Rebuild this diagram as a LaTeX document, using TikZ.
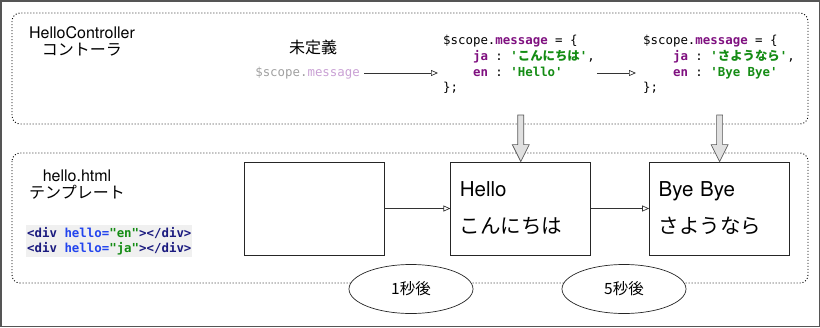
\documentclass[tikz,border=0pt]{standalone}
\usepackage{fontspec}
\setmainfont{TeX Gyre Heros}
\setmonofont{DejaVu Sans Mono}
\newfontfamily\jp{Noto Sans CJK JP}
\usetikzlibrary{arrows.meta,shapes.geometric,positioning,calc}

\definecolor{kwpurple}{HTML}{7F1080}
\definecolor{strgreen}{HTML}{148C14}
\definecolor{tagnavy}{HTML}{1A1A7F}
\definecolor{attrblue}{HTML}{2244EE}
\definecolor{fadegray}{HTML}{A0A0A0}
\definecolor{fadepurple}{HTML}{C9A0D4}
\definecolor{framegray}{HTML}{555555}

\newcommand{\kw}[1]{\textcolor{kwpurple}{\textbf{#1}}}
\newcommand{\str}[1]{\textcolor{strgreen}{\textbf{#1}}}
\newcommand{\tagn}[1]{\textcolor{tagnavy}{#1}}
\newcommand{\attr}[1]{\textcolor{attrblue}{#1}}
\newcommand{\fatdown}[2]{%
  \path[fatarrow] let \p1=(#1), \p2=(#2) in
    (\x1-3pt,\y1) -- (\x1+3pt,\y1) -- (\x1+3pt,\y2+17pt) -- (\x1+8.5pt,\y2+17pt)
    -- (\x2,\y2) -- (\x1-8.5pt,\y2+17pt) -- (\x1-3pt,\y2+17pt) -- cycle;}

\begin{document}
\begin{tikzpicture}[x=1pt,y=-1pt,
  panel/.style={draw=black, line width=0.9pt, dash pattern=on 1pt off 2pt, rounded corners=8pt},
  label/.style={align=center, inner sep=0pt, font=\fontsize{16}{17}\selectfont},
  code/.style={align=left, inner sep=0pt, font=\ttfamily\fontsize{12.4}{15.6}\selectfont},
  screen/.style={draw=black!85, line width=0.8pt, minimum width=140pt, minimum height=93pt,
    text width=122pt, inner xsep=9pt, align=left, font=\fontsize{20.5}{37}\selectfont},
  flow/.style={draw=black!80, line width=0.7pt, -{Triangle[open,length=7pt,width=6pt]}},
  fatarrow/.style={draw=black!65, fill=black!12, line width=0.7pt},
  delay/.style={ellipse, draw=black!85, fill=white, line width=0.7pt, minimum width=124pt,
    minimum height=49pt, font=\jp\fontsize{15.5}{17}\selectfont}]
\useasboundingbox (0,0) rectangle (820,327);
\draw[framegray, line width=1.5pt] (0.75,0.75) rectangle (819.25,326.25);

% panels
\draw[panel] (12,13) rectangle (808,124);
\draw[panel] (12,153) rectangle (808,283);

% controller
\node[label] (ctrl) at (82,41) {HelloController\\{\jp コントーラ}};
\node[label, font=\jp\fontsize{16}{17}\selectfont] (undef) at (313,47) {未定義};
\node[code, inner xsep=4pt, anchor=east] (scopevar) at (364,73)
  {\textcolor{fadegray}{\$scope.}\textcolor{fadepurple}{message}};
\node[code, anchor=west] (code1) at (443,64.5)
  {\$scope.\kw{message} = \{\\
   \ \ \ \ \kw{ja} : \str{'{\jp こんにちは}'},\\
   \ \ \ \ \kw{en} : \str{'Hello'}\\
   \};};
\node[code, anchor=west] (code2) at (643,64.5)
  {\$scope.\kw{message} = \{\\
   \ \ \ \ \kw{ja} : \str{'{\jp さようなら}'},\\
   \ \ \ \ \kw{en} : \str{'Bye Bye'}\\
   \};};

% template
\node[label] (tmpl) at (77,185) {hello.html\\{\jp テンプレート}};
\node[code, font=\ttfamily\bfseries\fontsize{12.4}{15}\selectfont, fill=black!6,
  inner xsep=1pt, inner ysep=2pt, anchor=north west] (html) at (26,225)
  {\tagn{<div} \attr{hello=}\str{"en"}\tagn{></div>}\\
   \tagn{<div} \attr{hello=}\str{"ja"}\tagn{></div>}};

% screens
\node[screen] (blank) at (314,208.5) {};
\node[screen, right=66pt of blank] (hello) {Hello\\{\jp こんにちは}};
\node[screen, right=58pt of hello] (bye) {Bye Bye\\{\jp さようなら}};

% connectors
\draw[flow, shorten >=5pt] (scopevar.east) -- (scopevar.east -| code1.west);
\draw[flow, shorten <=2pt, shorten >=7pt] (code1.east |- scopevar.east) -- (scopevar.east -| code2.west);
\draw[flow] (blank) -- (hello);
\draw[flow] (hello) -- (bye);

\coordinate (push1) at (hello.north |- 0,115);
\coordinate (push2) at (bye.north |- 0,115);
\fatdown{push1}{hello.north}
\fatdown{push2}{bye.north}

% delays
\node[delay] (after1) at (411,289) {1秒後};
\node[delay] (after5) at (624,289) {5秒後};
\end{tikzpicture}
\end{document}
